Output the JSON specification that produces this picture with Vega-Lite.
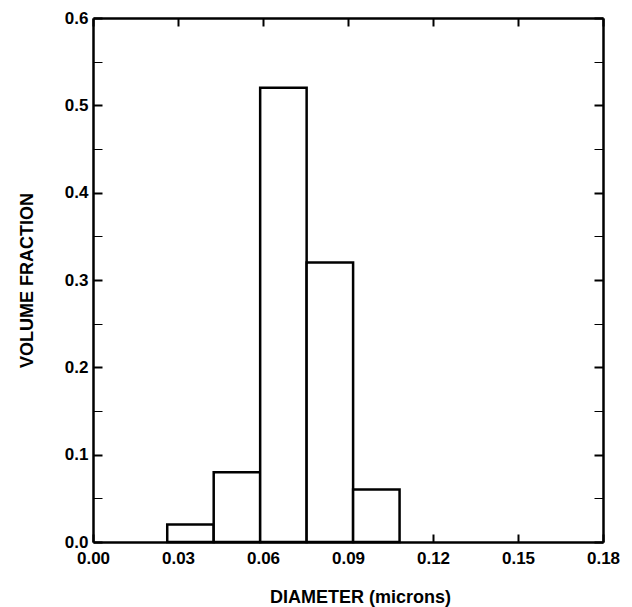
{
  "$schema": "https://vega.github.io/schema/vega-lite/v6.json",
  "autosize": {"type": "none"},
  "padding": {"left": 93, "top": 18, "right": 29, "bottom": 65},
  "width": 510,
  "height": 524,
  "background": "white",
  "config": {
    "view": {"stroke": null},
    "axis": {
      "labelFont": "Liberation Sans",
      "titleFont": "Liberation Sans",
      "labelFontSize": 17,
      "titleFontSize": 18,
      "labelFontWeight": "bold",
      "titleFontWeight": "bold",
      "labelColor": "black",
      "titleColor": "black",
      "labelFlush": false,
      "labelOverlap": false,
      "domainColor": "black",
      "domainWidth": 2.5,
      "tickColor": "black",
      "grid": false
    }
  },
  "data": {
    "values": [
      {"lo": 0.0262, "hi": 0.0426, "frac": 0.02},
      {"lo": 0.0426, "hi": 0.059, "frac": 0.08},
      {"lo": 0.059, "hi": 0.0754, "frac": 0.52},
      {"lo": 0.0754, "hi": 0.0918, "frac": 0.32},
      {"lo": 0.0918, "hi": 0.1082, "frac": 0.06}
    ]
  },
  "resolve": {"axis": {"x": "independent", "y": "independent"}},
  "layer": [
    {
      "mark": {"type": "bar", "opacity": 0},
      "encoding": {
        "x": {"field": "lo", "type": "quantitative", "scale": {"domain": [0, 0.18], "nice": false},
          "axis": {"orient": "top", "values": [0, 0.03, 0.06, 0.09, 0.12, 0.15, 0.18], "labels": false, "title": null, "tickSize": -8, "tickWidth": 2}},
        "x2": {"field": "hi"},
        "y": {"field": "frac", "type": "quantitative", "scale": {"domain": [0, 0.6], "nice": false},
          "axis": {"orient": "right", "values": [0, 0.1, 0.2, 0.3, 0.4, 0.5, 0.6], "labels": false, "title": null, "tickSize": -9, "tickWidth": 2}},
        "y2": {"datum": 0}
      }
    },
    {
      "mark": {"type": "bar", "opacity": 0},
      "encoding": {
        "x": {"field": "lo", "type": "quantitative", "axis": null},
        "x2": {"field": "hi"},
        "y": {"field": "frac", "type": "quantitative",
          "axis": {"orient": "left", "values": [0.05, 0.15, 0.25, 0.35, 0.45, 0.55], "labels": false, "title": null, "domain": false, "tickSize": -9, "tickWidth": 1}},
        "y2": {"datum": 0}
      }
    },
    {
      "mark": {"type": "bar", "opacity": 0},
      "encoding": {
        "x": {"field": "lo", "type": "quantitative", "axis": null},
        "x2": {"field": "hi"},
        "y": {"field": "frac", "type": "quantitative",
          "axis": {"orient": "right", "values": [0.05, 0.15, 0.25, 0.35, 0.45, 0.55], "labels": false, "title": null, "domain": false, "tickSize": -9, "tickWidth": 1}},
        "y2": {"datum": 0}
      }
    },
    {
      "mark": {"type": "bar", "fill": "white", "stroke": "black", "strokeWidth": 2.5},
      "encoding": {
        "x": {"field": "lo", "type": "quantitative",
          "axis": {"orient": "bottom", "values": [0, 0.03, 0.06, 0.09, 0.12, 0.15, 0.18], "format": ".2f", "title": "DIAMETER (microns)", "tickSize": -8, "tickWidth": 2, "labelPadding": 16, "titlePadding": 22, "titleX": 267}},
        "x2": {"field": "hi"},
        "y": {"field": "frac", "type": "quantitative",
          "axis": {"orient": "left", "values": [0, 0.1, 0.2, 0.3, 0.4, 0.5, 0.6], "format": ".1f", "title": "VOLUME FRACTION", "tickSize": -9, "tickWidth": 2, "labelPadding": 14, "titlePadding": 28}},
        "y2": {"datum": 0}
      }
    }
  ]
}
